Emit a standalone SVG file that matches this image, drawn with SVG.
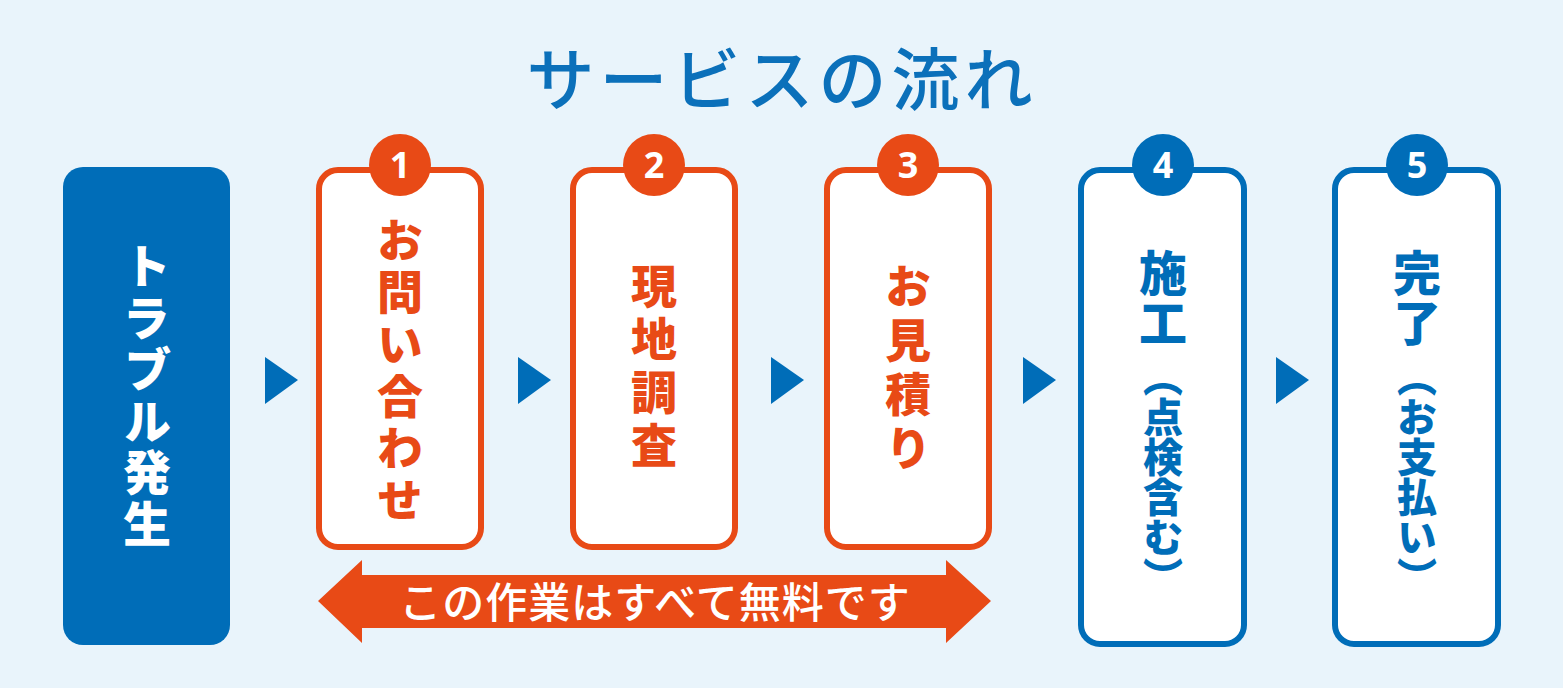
<svg xmlns="http://www.w3.org/2000/svg" width="1563" height="688" viewBox="0 0 1563 688">
<style>
.jp{font-family:"Noto Sans CJK JP","Noto Sans",sans-serif;}
.vt{writing-mode:vertical-rl;font-weight:900;}
.num{font-family:"Noto Sans","Liberation Sans",sans-serif;font-weight:700;font-size:36px;fill:#fff;text-anchor:middle;}
.ob{fill:#fff;stroke:#E84A16;stroke-width:6;}
.bb{fill:#fff;stroke:#006DB8;stroke-width:6;}
.oc{fill:#E84A16;}
.bc{fill:#006DB8;}
</style>
<rect x="0" y="0" width="1563" height="688" fill="#E9F4FB"/>
<text id="title" class="jp" x="782" y="105" font-size="68" font-weight="500" fill="#0B70BA" text-anchor="middle" letter-spacing="5">サービスの流れ</text>

<g id="node0">
<rect x="63" y="167" width="167" height="478" rx="20" fill="#006DB8"/>
<text class="jp vt" x="147" y="242" font-size="48" fill="#fff" letter-spacing="3.5">トラブル発生</text>
</g>

<g id="node1">
<rect class="ob" x="319" y="170" width="162" height="377" rx="19"/>
<circle class="oc" cx="400" cy="165" r="31"/>
<text class="num" x="400" y="178">1</text>
<text class="jp vt" x="400" y="217" font-size="46" fill="#E84A16" letter-spacing="6">お問い合わせ</text>
</g>

<g id="node2">
<rect class="ob" x="573" y="170" width="162" height="377" rx="19"/>
<circle class="oc" cx="654" cy="165" r="31"/>
<text class="num" x="654" y="178">2</text>
<text class="jp vt" x="654" y="263" font-size="46" fill="#E84A16" letter-spacing="7">現地調査</text>
</g>

<g id="node3">
<rect class="ob" x="827" y="170" width="162" height="377" rx="19"/>
<circle class="oc" cx="908" cy="165" r="31"/>
<text class="num" x="908" y="178">3</text>
<text class="jp vt" x="908" y="263" font-size="46" fill="#E84A16" letter-spacing="8">お見積り</text>
</g>

<g id="node4">
<rect class="bb" x="1081" y="170" width="163" height="474" rx="19"/>
<circle class="bc" cx="1163" cy="165" r="31"/>
<text class="num" x="1163" y="178">4</text>
<text class="jp vt" x="1163" y="249" font-size="48" fill="#006DB8" letter-spacing="2">施工</text>
<text class="jp vt" x="1163" y="357" font-size="40" fill="#006DB8" letter-spacing="0">（点検含む）</text>
</g>

<g id="node5">
<rect class="bb" x="1335" y="170" width="163" height="474" rx="19"/>
<circle class="bc" cx="1417" cy="165" r="31"/>
<text class="num" x="1417" y="178">5</text>
<text class="jp vt" x="1417" y="249" font-size="48" fill="#006DB8" letter-spacing="2">完了</text>
<text class="jp vt" x="1417" y="357" font-size="40" fill="#006DB8" letter-spacing="0">（お支払い）</text>
</g>

<g id="connectors" fill="#006DB8">
<polygon points="265,357 298,380 265,404"/>
<polygon points="518,357 551,380 518,404"/>
<polygon points="771,357 804,380 771,404"/>
<polygon points="1023,357 1056,380 1023,404"/>
<polygon points="1276,357 1309,380 1276,404"/>
</g>

<g id="banner">
<polygon fill="#E84A16" points="318,601 362,560 362,575 946,575 946,560 991,601 946,643 946,628 362,628 362,643"/>
<text class="jp" x="655" y="618" font-size="42" font-weight="500" fill="#fff" text-anchor="middle" letter-spacing="1">この作業はすべて無料です</text>
</g>
</svg>
